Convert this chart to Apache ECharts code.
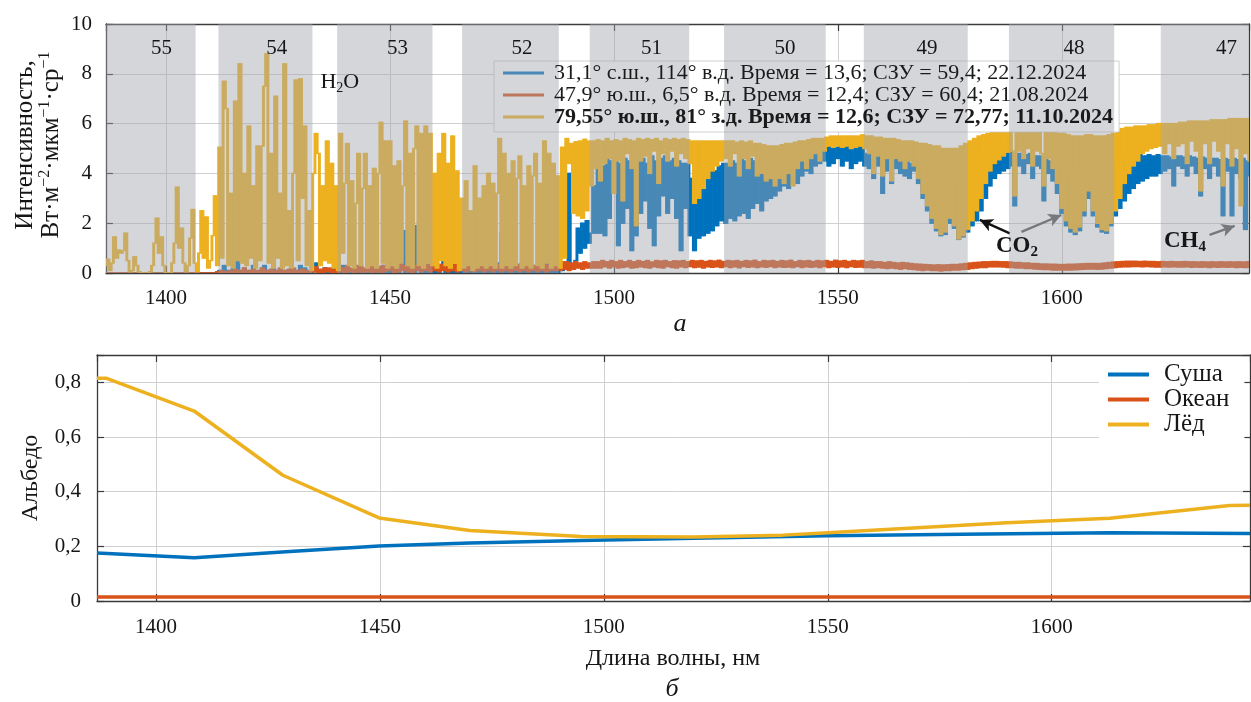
<!DOCTYPE html>
<html><head><meta charset="utf-8">
<script src="https://cdn.jsdelivr.net/npm/echarts@6/dist/echarts.min.js"></script>
<style>html,body{margin:0;padding:0;background:#fff}#c{width:1251px;height:702px}</style>
</head><body><div id="c"></div>
<script>
// ---------- data: top panel (spectra), grid 1386.5 nm + 0.5 nm steps ----------
const wlStart = 1386.5, wlStep = 0.5;
const iceSpec = [
0.3,0.55,0.1,0.4,1.45,0.6,0.92,0.8,0.9,1.6,0.5,0.05,0.1,0.65,0.3,0.05,0,0,0,0,
0.05,0.3,1.2,2.2,0.8,1.45,0.3,0,0,0,0.4,1.2,3.45,1.0,1.8,0.4,0.05,0.3,1.4,2.55,
0.4,0.05,0.8,2.5,0.6,2.25,0.2,0.5,1.5,3.1,0.3,5.05,0.6,7.7,6.6,0.3,3.2,0.2,6.9,0.5,
8.4,0.4,4.0,0.3,5.9,0.6,3.5,0.2,5.1,0.5,5.1,7.5,8.8,0.4,4.8,0.2,7.1,0.6,3.2,0.2,
8.4,0.3,2.5,0.2,4.0,7.75,0.5,7.8,3.0,5.9,0.3,2.5,0.1,4.0,5.6,4.8,0.3,3.5,0.5,5.3,
0.4,4.4,0.2,3.5,0.1,5.6,0.8,3.6,5.2,0.3,3.7,0.2,2.8,4.8,0.3,3.4,4.8,0.2,3.5,0.3,
4.2,0.2,4.0,6.05,0.4,5.3,0.2,5.3,0.3,4.3,0.2,4.5,0.4,3.5,6.1,0.3,4.8,0.2,5.0,5.9,
0.3,5.6,0.2,5.9,0.4,5.6,0.3,4.0,0.2,4.8,0.5,5.6,0.3,4.4,0.2,5.5,0.4,4.1,0.1,3.0,
0.2,3.7,0.3,2.5,0.1,4.3,0.2,3.0,0.3,3.5,0.2,4.0,0.3,3.6,0.2,3.2,5.4,0.2,4.8,0.3,
4.0,0.2,4.5,0.3,3.8,4.7,0.2,3.5,0.3,4.3,0.2,3.9,4.8,0.3,3.6,0.2,5.3,0.4,4.8,0.2,
4.4,0.3,3.9,0.2,5.05,0.6,5.4,4.4,5.2,2.4,5.27,2.3,5.3,2.2,5.37,2.5,5.3,3.5,5.3,4.2,
5.35,3.7,5.3,4.4,5.4,4.6,5.3,3.2,5.35,4.5,5.3,2.9,5.4,4.8,5.35,4.2,5.3,1.9,5.4,4.5,
5.35,4.7,5.4,4.0,5.35,4.9,5.4,3.6,5.3,4.8,5.4,4.5,5.35,4.9,5.4,4.3,5.35,4.8,5.4,4.6,
5.35,4.4,5.3,2.8,5.3,3.0,5.3,3.4,5.3,3.8,5.3,4.1,5.3,4.3,5.3,4.5,5.3,4.6,5.3,4.3,
5.3,4.8,5.25,3.9,5.3,4.6,5.25,4.2,5.3,4.7,5.2,3.9,5.2,4.0,5.15,3.7,5.1,3.8,5.1,3.5,
5.1,3.8,5.15,3.6,5.2,4.0,5.2,3.5,5.25,4.2,5.3,4.5,5.3,4.2,5.35,4.6,5.4,4.8,5.4,4.5,
5.4,4.9,5.45,5.1,5.5,5.05,5.5,5.1,5.5,5.05,5.5,5.1,5.5,5.0,5.5,5.05,5.5,5.1,5.55,5.0,
5.5,4.8,5.5,4.0,5.45,4.7,5.45,3.9,5.4,4.6,5.4,3.7,5.4,4.6,5.35,4.5,5.3,4.2,5.3,4.5,
5.3,4.3,5.25,3.8,5.2,3.2,5.2,2.7,5.15,2.2,5.1,1.8,5.1,1.55,5.0,1.65,5.0,2.2,5.0,1.9,
5.0,1.37,5.1,1.5,5.2,1.75,5.3,2.1,5.4,2.5,5.5,3.0,5.55,3.6,5.6,4.1,5.65,4.4,5.65,4.55,
5.65,4.7,5.7,4.85,5.7,4.9,3.1,5.7,4.9,5.7,4.6,5.65,5.0,5.7,4.3,5.7,4.9,5.65,4.8,3.5,
5.7,4.6,5.7,4.2,5.65,3.6,5.6,2.6,5.6,2.1,5.55,1.8,5.5,1.65,5.5,1.85,5.5,2.5,5.55,3.3,
5.55,2.5,5.5,2.0,5.5,1.75,5.5,1.7,5.55,2.0,5.6,2.5,5.7,3.0,5.8,3.6,5.85,4.0,5.85,4.3,
5.9,4.5,5.9,4.8,5.9,4.9,5.95,5.0,5.95,5.05,6.0,5.1,6.0,4.8,6.0,5.2,6.0,4.6,6.0,5.1,
6.05,5.2,6.05,4.4,6.1,5.3,6.1,4.9,6.1,3.3,6.1,5.2,6.1,4.4,6.15,5.3,6.15,4.9,6.15,3.5,
6.15,5.2,6.2,4.3,6.2,5.0,6.2,2.7,6.2,4.8,6.2,4.5
];
const landSpec = [
0,0,0,0,0,0,0,0,0,0,0,0,0,0,0,0,0,0,0,0,
0,0,0,0,0,0,0,0,0,0,0,0,0,0,0,0,0,0,0,0,
0,0,0,0,0,0,0,0,0,0,0,0.1,0,0.3,0,0.1,0,0.2,0,0.5,
0.1,0,0.2,0,0.1,0,0.3,0,0.1,0,0.2,0.3,0,0.1,0,0.2,0,0.1,0,0.1,
0,0.1,0,0.2,0,0.1,0,0.3,0,0.2,0,0.1,0,0.2,0.4,0,0.1,0,0.2,0,
0.1,0,0.2,0,0.1,0,0.3,0,0.2,0,0.1,0,0.3,0,0.2,0,0.1,0,0.4,0,
0.1,0,0.2,0,0.3,0,0.1,0,0.2,0,0.3,0,0.2,1.7,0,0.2,0,0.3,0,1.9,
0.2,0,0.3,0,0.2,0,0.4,0,0.2,0,0.3,1.6,0,0.2,0,0.3,0,0.2,0,0.3,
0,0.2,0,0.3,0,0.2,0,0.4,0,0.3,0,0.2,0,0.3,0,0.4,0,1.6,0,0.3,
0,0.2,0,0.3,0,0.2,0,0.4,0,1.2,0,0.3,0,0.2,0,0.3,0,0.4,0,0.2,
0,0.3,0,0.2,0.1,0.3,0.2,4.0,0.3,0.2,0.5,1.8,0.8,2.0,1.0,2.1,1.2,1.6,3.5,1.6,
4.5,1.6,4.3,1.5,4.6,2.2,4.5,3.2,4.7,1.1,4.4,2.0,4.6,2.6,4.5,0.9,4.3,1.5,4.6,2.4,
4.6,2.9,4.4,1.8,4.7,1.1,4.5,2.3,4.6,3.1,4.7,2.4,4.5,3.0,4.6,2.2,4.5,0.9,4.4,2.6,
4.4,1.5,3.8,0.9,3.6,1.4,4.0,1.5,3.9,1.6,4.2,1.7,4.1,1.9,4.3,2.1,4.4,2.0,4.4,2.2,
4.5,2.1,4.4,2.3,4.6,2.4,4.5,2.2,4.6,2.6,4.5,2.8,4.6,2.5,4.5,2.9,4.6,3.0,4.6,3.1,
4.6,3.3,4.7,3.5,4.7,3.4,4.8,3.7,4.8,3.6,4.9,3.9,4.9,4.1,4.9,4.0,5.0,4.3,5.0,4.4,
5.0,4.5,5.05,4.3,5.1,4.4,5.05,4.6,5.1,4.3,5.05,4.5,5.1,4.2,5.05,4.4,5.1,4.5,5.05,4.3,
4.8,4.2,4.9,3.8,4.8,4.3,4.85,3.2,4.8,4.1,4.8,3.6,4.75,4.2,4.7,4.0,4.6,3.9,4.5,3.8,
4.4,4.1,4.3,3.6,4.2,3.0,4.1,2.5,4.0,2.0,3.9,1.7,3.8,1.5,3.8,1.55,3.8,2.0,3.9,1.8,
3.8,1.35,3.8,1.45,3.9,1.65,4.0,1.9,4.2,2.1,4.4,2.5,4.6,3.0,4.7,3.5,4.8,3.8,4.85,4.0,
4.9,4.1,4.9,4.2,4.85,4.3,2.7,4.8,4.3,4.8,4.0,4.75,4.4,4.8,3.8,4.7,4.3,4.7,4.2,2.9,
4.6,4.0,4.5,3.7,4.4,3.2,4.3,2.4,4.2,1.9,4.1,1.65,4.0,1.55,4.0,1.7,4.1,2.3,4.2,3.0,
4.2,2.3,4.1,1.85,4.0,1.65,4.0,1.6,4.1,1.9,4.2,2.3,4.4,2.6,4.5,2.9,4.6,3.2,4.7,3.4,
4.7,3.6,4.75,3.7,4.7,3.8,4.75,3.9,4.7,3.9,4.75,4.0,4.7,4.1,4.7,4.2,4.65,3.5,4.7,4.3,
4.7,4.2,4.65,3.9,4.7,4.3,4.65,4.0,4.6,3.1,4.65,4.2,4.6,3.8,4.6,4.3,4.6,3.9,4.55,2.3,
4.6,4.1,4.55,2.3,4.6,4.0,4.55,3.8,4.6,1.75,4.5,3.9
];
const oceanSpec = [
0,0,0,0,0,0,0,0,0,0,0,0,0,0,0,0,0,0,0,0,
0,0,0,0,0,0,0,0,0,0,0,0,0,0,0,0,0,0,0,0,
0,0,0,0,0,0,0,0,0,0,0.05,0,0.1,0,0.05,0,0.1,0,0.15,0,
0.1,0,0.2,0,0.1,0,0.15,0,0.1,0,0.2,0,0.1,0,0.15,0,0.1,0,0.2,0,
0.1,0,0.15,0,0.2,0,0.1,0,0.15,0,0.1,0,0.2,0.05,0.25,0,0.15,0,0.2,0.05,
0.2,0,0.15,0,0.25,0.05,0.2,0,0.3,0.05,0.2,0,0.25,0.05,0.3,0,0.2,0.05,0.25,0,
0.3,0.05,0.25,0,0.3,0.05,0.35,0.1,0.25,0,0.3,0.05,0.35,0.1,0.3,0.05,0.35,0,0.3,0.1,
0.35,0.05,0.3,0.1,0.35,0.05,0.4,0.1,0.3,0.05,0.35,0.1,0.3,0.05,0.4,0.1,0.35,0.05,0.3,0.1,
0.3,0.05,0.35,0.1,0.3,0.05,0.35,0.1,0.3,0.05,0.4,0.1,0.35,0.05,0.3,0.1,0.35,0.05,0.3,0.1,
0.35,0.05,0.3,0.1,0.35,0.05,0.4,0.1,0.3,0.05,0.35,0.1,0.3,0.05,0.35,0.1,0.4,0.05,0.3,0.1,
0.35,0.1,0.4,0.1,0.45,0.15,0.45,0.1,0.4,0.15,0.45,0.2,0.4,0.15,0.45,0.2,0.4,0.2,0.45,0.2,
0.45,0.2,0.5,0.25,0.45,0.2,0.5,0.25,0.45,0.2,0.5,0.22,0.45,0.25,0.5,0.2,0.45,0.22,0.5,0.25,
0.46,0.22,0.5,0.2,0.44,0.25,0.5,0.22,0.48,0.2,0.5,0.26,0.45,0.22,0.49,0.2,0.48,0.25,0.5,0.22,
0.45,0.26,0.5,0.22,0.48,0.24,0.5,0.2,0.46,0.25,0.5,0.23,0.48,0.25,0.51,0.22,0.46,0.26,0.5,0.22,
0.48,0.25,0.5,0.21,0.46,0.26,0.5,0.23,0.48,0.25,0.51,0.22,0.45,0.25,0.5,0.23,0.48,0.26,0.5,0.22,
0.46,0.25,0.5,0.23,0.48,0.24,0.51,0.22,0.45,0.26,0.5,0.22,0.48,0.25,0.5,0.23,0.46,0.25,0.5,0.22,
0.48,0.26,0.5,0.22,0.46,0.25,0.51,0.23,0.48,0.25,0.5,0.22,0.46,0.26,0.5,0.23,0.48,0.24,0.5,0.22,
0.45,0.22,0.48,0.2,0.45,0.22,0.45,0.2,0.42,0.18,0.45,0.2,0.42,0.18,0.4,0.15,0.42,0.18,0.4,0.15,
0.38,0.14,0.36,0.12,0.35,0.1,0.34,0.12,0.33,0.1,0.32,0.1,0.33,0.08,0.32,0.1,0.33,0.1,0.34,0.12,
0.34,0.12,0.36,0.14,0.38,0.15,0.4,0.18,0.42,0.2,0.43,0.22,0.45,0.22,0.45,0.25,0.46,0.25,0.46,0.25,
0.45,0.24,0.45,0.22,0.44,0.22,0.42,0.2,0.42,0.2,0.4,0.18,0.4,0.18,0.38,0.16,0.38,0.15,0.36,0.14,
0.36,0.14,0.35,0.12,0.35,0.12,0.34,0.12,0.34,0.12,0.35,0.12,0.35,0.13,0.36,0.14,0.37,0.15,0.38,0.16,
0.38,0.16,0.38,0.15,0.38,0.16,0.4,0.18,0.42,0.2,0.44,0.22,0.45,0.24,0.46,0.25,0.47,0.25,0.47,0.26,
0.47,0.26,0.46,0.25,0.47,0.26,0.46,0.25,0.46,0.24,0.45,0.24,0.46,0.25,0.45,0.24,0.46,0.25,0.45,0.24,
0.45,0.24,0.46,0.25,0.45,0.23,0.45,0.24,0.44,0.23,0.45,0.24,0.44,0.22,0.45,0.24,0.44,0.23,0.45,0.24,
0.44,0.23,0.45,0.24,0.44,0.22,0.45,0.23,0.44,0.22,0.45,0.23
];
// diffraction orders (grey bands) and their labels
const bandEdges = [[1386.6,1406.6],[1411.7,1432.7],[1438.2,1459.5],[1466.1,1487.7],[1494.6,1516.8],[1524.6,1547.3],[1555.8,1579.0],[1588.2,1611.7],[1622.1,1641.8]];
const bandOrders = ['55','54','53','52','51','50','49','48','47'];
const bandLabelX = [1399.0,1424.7,1451.7,1479.5,1508.4,1538.2,1569.9,1602.7,1636.8];
const bandLabelY = 9.02;
// annotations
const annotPos = [[1438.8,7.67],[1590.0,1.08],[1627.5,1.29]];
const annotText = ['{m|H}{s|2}{m|O}','{b|CO}{bs|2}','{b|CH}{bs|4}'];
const arrows = [
  {from:[1588.4,1.59], to:[1581.7,2.13], color:'#111111'},
  {from:[1591.0,1.65], to:[1599.9,2.33], color:'#555555'},
  {from:[1633.0,1.53], to:[1638.6,1.89], color:'#555555'}
];
const specNames = [
  '31,1° с.ш., 114° в.д. Время = 13,6; СЗУ = 59,4; 22.12.2024',
  '47,9° ю.ш., 6,5° в.д. Время = 12,4; СЗУ = 60,4; 21.08.2024',
  '79,55° ю.ш., 81° з.д. Время = 12,6; СЗУ = 72,77; 11.10.2024'
];
// ---------- data: bottom panel (albedo) ----------
const albIceWl  = [1386.8,1388.8,1408.5,1428.3,1449.8,1470,1495,1520,1540,1550,1570,1590,1613,1639.7,1644.3];
const albIce    = [0.815,0.815,0.695,0.46,0.304,0.258,0.236,0.234,0.241,0.25,0.268,0.286,0.303,0.349,0.35];
const albLandWl = [1386.8,1408.5,1429,1449.8,1470,1495,1520,1550,1580,1613,1644.3];
const albLand   = [0.176,0.158,0.18,0.201,0.212,0.221,0.23,0.239,0.244,0.25,0.247];
const albOceanWl= [1386.8,1450,1500,1550,1600,1644.3];
const albOcean  = [0.015,0.015,0.015,0.015,0.015,0.015];
const albNames = ['Суша','Океан','Лёд'];

const BLUE='#0072BD', RED='#D95319', YEL='#EDB120';
const F = "'Liberation Serif','Times New Roman',serif";
const TXT = '#161616';
const OVER = 'rgba(160,165,172,0.45)';

const wl = landSpec.map((_, i) => wlStart + wlStep * i);
const pairs = (xs, ys) => ys.map((v, i) => [xs[i], v]);
// consecutive samples -> segment spans (dense-plot look)
const spans = vals => vals.slice(0, -1).map((v, i) => [wl[i], wl[i + 1], Math.min(v, vals[i + 1]), Math.max(v, vals[i + 1])]);
function spanRender(color){
  return (params, api) => {
    const a = api.coord([api.value(0), api.value(3)]);
    const b = api.coord([api.value(1), api.value(2)]);
    let y = a[1] - 0.7, h = b[1] - a[1] + 1.4;
    if (h < 1.6) { y -= (1.6 - h) / 2; h = 1.6; }
    return {type:'rect', shape:{x:a[0] - 0.35, y, width:b[0] - a[0] + 0.7, height:h}, style:{fill:color}};
  };
}

const chart = echarts.init(document.getElementById('c'));
const axLine = {show:true, onZero:false, lineStyle:{color:'#3a3a3a', width:1.3}};
const axTick = {show:true, inside:true, length:7, lineStyle:{color:'#3a3a3a', width:1.2}};
const split = {show:true, lineStyle:{color:'#d0d0d0', width:1}};
function xLab(margin){ return {fontFamily:F, fontSize:21, color:TXT, margin, showMinLabel:false, showMaxLabel:false,
  formatter: v => (Math.abs(v % 50) < 1e-6 ? String(v) : '')}; }

function xMain(grid, min, max, m){ return {type:'value', gridIndex:grid, min, max, splitNumber:5, axisLine:axLine, axisTick:axTick, splitLine:split, axisLabel:xLab(m)}; }
function xTop(grid, min, max){ return {type:'value', gridIndex:grid, min, max, splitNumber:5, position:'top', axisLine:axLine, axisTick:axTick, splitLine:{show:false}, axisLabel:{show:false}}; }

const legendCommon = {orient:'vertical', left:494, top:61, icon:'rect', itemWidth:41, itemHeight:3, itemGap:0,
  padding:[1,6,4,9], selectedMode:false};
const legendData = [{name:specNames[0]},{name:specNames[1]},{name:specNames[2], textStyle:{fontWeight:'bold'}}];
const specColors = [BLUE, RED, YEL];
const specVals = [landSpec, oceanSpec, iceSpec];

const specSeries = specVals.map((vals, k) => ({
  name:specNames[k], type:'custom', xAxisIndex:0, yAxisIndex:0, z:2 + k, silent:true, clip:true,
  itemStyle:{color:specColors[k]}, encode:{x:[0,1], y:[2,3]},
  data:spans(vals), renderItem:spanRender(specColors[k])
}));

const option = {
  animation:false,
  backgroundColor:'#fff',
  grid:[
    {left:106, right:2, top:24, height:249},
    {left:97, right:1, top:355, height:246}
  ],
  xAxis:[
    xMain(0, 1386.6, 1641.8, 15), xTop(0, 1386.6, 1641.8),
    xMain(1, 1386.8, 1644.3, 16), xTop(1, 1386.8, 1644.3)
  ],
  yAxis:[
    {type:'value', gridIndex:0, min:0, max:10, interval:2, axisLine:axLine, axisTick:axTick, splitLine:split,
     axisLabel:{fontFamily:F, fontSize:21, color:TXT, margin:14}},
    {type:'value', gridIndex:0, min:0, max:10, interval:2, position:'right', axisLine:axLine, axisTick:axTick, splitLine:{show:false}, axisLabel:{show:false}},
    {type:'value', gridIndex:1, min:0, max:0.9, interval:0.2, axisLine:axLine, axisTick:axTick, splitLine:split,
     axisLabel:{fontFamily:F, fontSize:21, color:TXT, margin:16,
       formatter: v => (Math.abs(v - 0.9) < 1e-6 ? '' : (v === 0 ? '0' : v.toFixed(1).replace('.', ',')))}},
    {type:'value', gridIndex:1, min:0, max:0.9, interval:0.2, position:'right', axisLine:axLine, axisTick:axTick, splitLine:{show:false}, axisLabel:{show:false}}
  ],
  legend:[
    Object.assign({}, legendCommon, {z:5, backgroundColor:'#ffffff', borderColor:'#c4c4c4', borderWidth:0.8,
      textStyle:{fontFamily:F, fontSize:22, color:'rgba(0,0,0,0)', lineHeight:21.4, padding:[0,0,0,5]},
      data:legendData}),
    Object.assign({}, legendCommon, {z:12, itemStyle:{opacity:0},
      textStyle:{fontFamily:F, fontSize:22, color:'#1a1a1a', lineHeight:21.4, padding:[0,0,0,5]},
      data:legendData}),
    {orient:'vertical', left:1099, top:359, icon:'rect', itemWidth:41, itemHeight:4, itemGap:0,
     padding:[3,15,3,9], selectedMode:false, backgroundColor:'#ffffff', z:5,
     textStyle:{fontFamily:F, fontSize:25, color:TXT, lineHeight:23, padding:[0,0,0,10]},
     data:albNames}
  ],
  graphic:[
    {type:'text', x:38, y:145, rotation:Math.PI/2, z:20, style:{
      text:'{a|Интенсивность,}\n{a|Вт·м}{s|−2}{a|·мкм}{s|−1}{a|·ср}{s|−1}',
      align:'center', verticalAlign:'middle', fill:TXT,
      rich:{a:{fontFamily:F, fontSize:25, fill:TXT, lineHeight:26}, s:{fontFamily:F, fontSize:16, fill:TXT, lineHeight:26, padding:[0,0,12,0]}}}},
    {type:'text', x:31, y:478, rotation:Math.PI/2, z:20, style:{text:'Альбедо', font:'24px '+F, fill:TXT, align:'center', verticalAlign:'middle'}},
    {type:'text', x:673, y:659, z:20, style:{text:'Длина волны, нм', font:'24px '+F, fill:TXT, align:'center', verticalAlign:'middle'}},
    {type:'text', x:680, y:324, z:20, style:{text:'а', font:'italic 26px '+F, fill:TXT, align:'center', verticalAlign:'middle'}},
    {type:'text', x:672, y:689, z:20, style:{text:'б', font:'italic 26px '+F, fill:TXT, align:'center', verticalAlign:'middle'}}
  ],
  series:specSeries.concat([
    {type:'custom', xAxisIndex:0, yAxisIndex:0, z:10, silent:true, data:bandEdges,
     renderItem:(params, api) => {
       const p0 = api.coord([api.value(0), 10]);
       const p1 = api.coord([api.value(1), 0]);
       return {type:'rect', shape:{x:p0[0], y:p0[1], width:p1[0]-p0[0], height:p1[1]-p0[1]}, style:{fill:OVER}};
     }},
    {type:'custom', xAxisIndex:0, yAxisIndex:0, z:15, silent:true,
     data:bandOrders.map((o, i) => [bandLabelX[i], bandLabelY, i]),
     renderItem:(params, api) => {
       const p = api.coord([api.value(0), api.value(1)]);
       return {type:'text', x:p[0], y:p[1], style:{text:bandOrders[api.value(2)], font:'21px '+F, fill:TXT, align:'center', verticalAlign:'middle'}};
     }},
    {type:'custom', xAxisIndex:0, yAxisIndex:0, z:15, silent:true,
     data:annotPos.map((p, i) => [p[0], p[1], i]),
     renderItem:(params, api) => {
       const p = api.coord([api.value(0), api.value(1)]);
       return {type:'text', x:p[0], y:p[1], style:{text:annotText[api.value(2)], align:'center', verticalAlign:'middle', fill:TXT,
         rich:{m:{fontFamily:F, fontSize:22, fill:TXT}, s:{fontFamily:F, fontSize:14, fill:TXT, padding:[12,0,0,0]},
               b:{fontFamily:F, fontSize:23, fontWeight:'bold', fill:TXT}, bs:{fontFamily:F, fontSize:15, fontWeight:'bold', fill:TXT, padding:[13,0,0,0]}}}};
     },
     markLine:{silent:true, symbol:['none','arrow'], symbolSize:[10,13], label:{show:false}, animation:false,
       data:arrows.map(a => [{coord:a.from, lineStyle:{color:a.color, width:2.4, type:'solid'}},{coord:a.to, lineStyle:{color:a.color, width:2.4, type:'solid'}}])}},
    {name:albNames[0], type:'line', xAxisIndex:2, yAxisIndex:2, data:pairs(albLandWl, albLand), showSymbol:false, symbol:'none',
     lineStyle:{color:BLUE, width:3.5}, itemStyle:{color:BLUE}, z:3, silent:true},
    {name:albNames[1], type:'line', xAxisIndex:2, yAxisIndex:2, data:pairs(albOceanWl, albOcean), showSymbol:false, symbol:'none',
     lineStyle:{color:RED, width:3.5}, itemStyle:{color:RED}, z:3, silent:true},
    {name:albNames[2], type:'line', xAxisIndex:2, yAxisIndex:2, data:pairs(albIceWl, albIce), showSymbol:false, symbol:'none',
     lineStyle:{color:YEL, width:3.5}, itemStyle:{color:YEL}, z:3, silent:true}
  ])
};
chart.setOption(option);
</script>
</body></html>
